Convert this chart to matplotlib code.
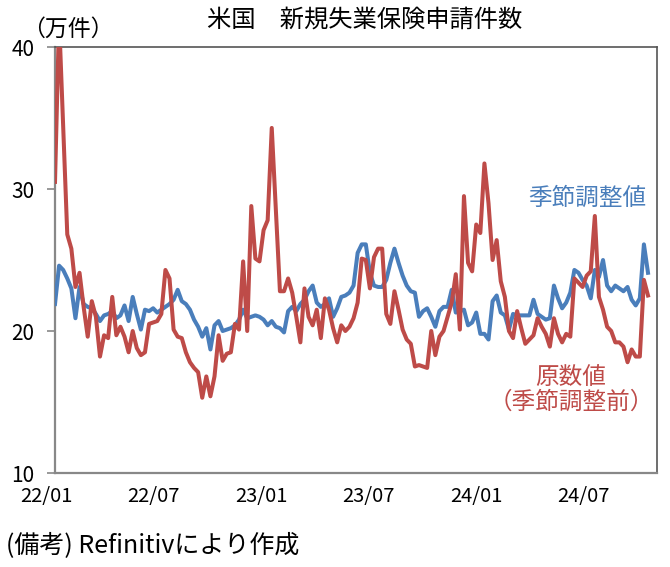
import numpy as np
import matplotlib
matplotlib.use("Agg")
import matplotlib.pyplot as plt

plt.rcParams['font.family'] = ['Noto Sans CJK JP', 'DejaVu Sans']

title = "米国　新規失業保険申請件数"
unit_label = "（万件）"
note = "(備考) Refinitivにより作成"

# Weekly initial claims (10k), from week ending 2022/01/01
sa_values = [
    21.9, 24.6, 24.3, 23.7, 23.0, 20.9, 23.1, 21.9, 21.7, 21.6,
    21.2, 20.7, 21.1, 21.2, 21.4, 20.9, 21.1, 21.8, 20.7, 22.4,
    21.2, 20.1, 21.5, 21.4, 21.6, 21.3, 21.5, 21.7, 21.9, 22.2,
    22.9, 22.1, 21.9, 21.5, 20.8, 20.3, 19.6, 20.2, 18.7, 20.4,
    20.7, 20.0, 20.1, 20.2, 20.4, 20.8, 21.5, 20.9, 21.0, 21.1,
    21.0, 20.8, 20.4, 20.7, 20.3, 20.2, 19.9, 21.4, 21.7, 21.4,
    21.9, 22.2, 22.8, 23.2, 22.0, 21.7, 21.9, 22.3, 21.0, 21.6,
    22.4, 22.5, 22.7, 23.2, 25.5, 26.1, 26.1, 24.1, 23.2, 23.1,
    23.1, 23.6, 24.8, 25.8, 24.8, 23.9, 23.2, 22.8, 22.7, 21.0,
    21.4, 21.6, 21.0, 20.3, 21.4, 21.7, 21.7, 22.9, 21.3, 21.4,
    21.5, 20.4, 20.6, 21.3, 19.8, 19.8, 19.4, 22.1, 22.5, 21.3,
    21.1, 20.1, 21.2, 21.1, 21.1, 21.1, 21.1, 22.2, 21.2, 21.0,
    20.8, 20.9, 23.2, 22.3, 21.6, 22.0, 22.7, 24.3, 24.1, 23.6,
    23.2, 22.3, 24.3, 23.8, 25.0, 23.2, 22.8, 23.2, 23.0, 22.8,
    23.1, 22.2, 21.8, 22.3, 26.1, 24.1,
]

nsa_values = [
    30.5, 42.0, 34.5, 26.8, 25.8, 23.1, 24.1, 21.7, 19.6, 22.1,
    21.0, 18.2, 19.7, 19.5, 22.4, 19.7, 20.3, 19.6, 18.5, 20.0,
    18.8, 18.3, 18.5, 20.5, 20.6, 20.7, 21.2, 24.3, 23.7, 20.1,
    19.6, 19.5, 18.5, 17.8, 17.4, 17.1, 15.3, 16.8, 15.4, 16.8,
    19.7, 17.9, 18.4, 18.5, 20.5, 20.1, 24.9, 20.0, 28.8, 25.1,
    24.9, 27.1, 27.8, 34.3, 28.5, 22.8, 22.8, 23.7, 22.7, 21.0,
    19.2, 23.0, 21.0, 20.4, 21.5, 19.5, 22.3, 21.5, 20.2, 19.2,
    20.4, 20.0, 20.3, 20.9, 22.0, 25.1, 25.0, 23.0, 25.2, 25.8,
    25.8, 21.2, 20.5, 22.8, 21.5, 20.1, 19.4, 19.1, 17.5, 17.6,
    17.5, 17.4, 20.0, 18.3, 19.6, 20.0, 21.0, 22.0, 24.0, 20.1,
    29.5, 24.8, 24.2, 27.5, 26.9, 31.8, 29.0, 25.0, 26.4, 23.5,
    22.4, 20.0, 19.5, 21.4, 20.2, 19.1, 19.4, 19.7, 20.9, 20.3,
    19.8, 18.9, 20.9, 19.8, 19.2, 19.8, 19.6, 23.7, 23.4, 23.1,
    23.9, 24.2, 28.1, 22.4, 21.5, 20.3, 20.0, 19.2, 19.2, 18.9,
    17.8, 18.7, 18.2, 18.2, 23.6, 22.5,
]

x_labels = ["22/01", "22/07", "23/01", "23/07", "24/01", "24/07"]
x_label_pos = [-2.2, 24.1, 50.4, 76.7, 103.0, 129.3]
y_ticks = [10, 20, 30, 40]

sa_name = "季節調整値"
nsa_name = "原数値\n（季節調整前）"

blue = "#4A7EBB"
red = "#BE4B48"

fig = plt.figure(figsize=(6.7, 5.67), dpi=100)
ax = fig.add_axes([55 / 670, 1 - 473 / 567, (657 - 55) / 670, (473 - 47) / 567])

x = np.arange(len(sa_values))
ax.plot(x, sa_values, color=blue, lw=2.9, solid_joinstyle="round", zorder=3)
ax.plot(x, nsa_values, color=red, lw=2.9, solid_joinstyle="round", zorder=4)

ax.set_xlim(0, 147.2)
ax.set_ylim(10, 40)
ax.set_yticks(y_ticks)
ax.set_yticklabels([str(v) for v in y_ticks], fontsize=15)
ax.tick_params(axis="y", length=6, width=1.2, color="#888888", pad=9)
ax.set_xticks([])

for s in ["left", "bottom"]:
    ax.spines[s].set_color("#888888")
    ax.spines[s].set_linewidth(1.6)
for s in ["top", "right"]:
    ax.spines[s].set_color("#555555")
    ax.spines[s].set_linewidth(1.2)

for lab, pos in zip(x_labels, x_label_pos):
    ax.text(pos, -0.055, lab, transform=ax.get_xaxis_transform(),
            ha="center", va="center", fontsize=14.5)

fig.text(365 / 670, 1 - 20 / 567, title, ha="center", va="center", fontsize=17.5)
fig.text(22 / 670, 1 - 29 / 567, unit_label, ha="left", va="center", fontsize=16.5)
fig.text(6 / 670, 1 - 545 / 567, note, ha="left", va="center", fontsize=18)

ax.text(587 / 670, 1 - 198 / 567, sa_name, transform=fig.transFigure,
        ha="center", va="center", fontsize=17, color=blue)
ax.text(571 / 670, 1 - 390 / 567, nsa_name, transform=fig.transFigure,
        ha="center", va="center", fontsize=17, color=red, linespacing=1.1,
        multialignment="center")

fig.savefig("out.png", dpi=100)
